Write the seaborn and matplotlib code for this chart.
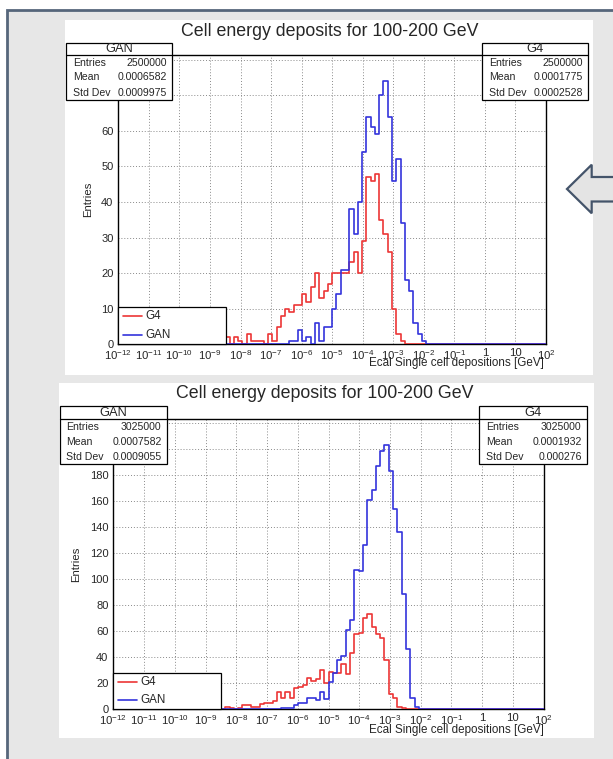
import numpy as np
import pandas as pd
import matplotlib
matplotlib.use("Agg")
import matplotlib.pyplot as plt
import matplotlib.transforms as mtransforms
from matplotlib.patches import Rectangle, Polygon
from matplotlib.lines import Line2D
from matplotlib.ticker import (FixedLocator, FixedFormatter, FuncFormatter,
                               LogLocator, MultipleLocator, NullFormatter)
import seaborn as sns

sns.set_theme(style="white")
plt.rcParams["font.family"] = ["Liberation Sans", "DejaVu Sans"]
plt.rcParams["mathtext.fontset"] = "custom"
plt.rcParams["mathtext.rm"] = "Liberation Sans"
plt.rcParams["mathtext.it"] = "Liberation Sans:italic"
plt.rcParams["mathtext.bf"] = "Liberation Sans:bold"

# ---------------------------------------------------------------- data
title = "Cell energy deposits for 100-200 GeV"
x_label = "Ecal Single cell depositions [GeV]"
y_label = "Entries"
series_names = ["G4", "GAN"]
series_colors = ["#ec3636", "#3434dc"]

x_tick_labels = [r"$10^{-12}$", r"$10^{-11}$", r"$10^{-10}$", r"$10^{-9}$",
                 r"$10^{-8}$", r"$10^{-7}$", r"$10^{-6}$", r"$10^{-5}$",
                 r"$10^{-4}$", r"$10^{-3}$", r"$10^{-2}$", r"$10^{-1}$",
                 "1", "10", r"$10^{2}$"]
log_range = (-12, 2)
n_bins = 100

stat_labels = ["Entries", "Mean", "Std Dev"]
gan_stats_top = ["2500000", "0.0006582", "0.0009975"]
g4_stats_top = ["2500000", "0.0001775", "0.0002528"]
gan_stats_bottom = ["3025000", "0.0007582", "0.0009055"]
g4_stats_bottom = ["3025000", "0.0001932", "0.000276"]

# entries per logarithmic bin (100 bins from 1e-12 to 1e2 GeV)
g4_top = [0] * 25 + [
    2, 0, 2, 1, 0, 3, 1, 1, 1, 0, 3, 1, 5, 8, 10, 9, 11, 11, 14, 12, 16,
    20, 13, 15, 17, 20, 20, 20, 20, 23, 26, 20, 29, 47, 46, 48, 35, 31, 26,
    10, 3, 1] + [0] * 33
gan_top = [0] * 40 + [
    1, 1, 4, 1, 2, 0, 6, 1, 5, 5, 10, 14, 21, 21, 38, 31, 40, 54, 64, 61,
    59, 70, 74, 64, 46, 52, 34, 18, 15, 6, 3, 1] + [0] * 28
g4_bottom = [0] * 26 + [
    2, 1, 0, 1, 3, 3, 2, 2, 4, 5, 5, 6, 13, 9, 13, 9, 16, 17, 19, 24, 22,
    23, 30, 20, 29, 28, 28, 35, 27, 43, 58, 59, 70, 73, 63, 58, 55, 38, 12,
    9, 2, 1] + [0] * 32
gan_bottom = [0] * 39 + [
    1, 1, 1, 3, 5, 5, 9, 9, 7, 13, 8, 21, 28, 38, 41, 61, 69, 107, 106, 126,
    161, 169, 187, 199, 203, 183, 154, 136, 89, 46, 9, 2] + [0] * 29

# ---------------------------------------------------------------- figure
W, H = 613, 759
fig = plt.figure(figsize=(W / 100, H / 100), dpi=100)
fig.patch.set_facecolor("white")
# pixel coordinates, origin at the top-left corner
px = mtransforms.Affine2D().scale(1 / W, -1 / H).translate(0, 1) + fig.transFigure


def rect(x0, y0, x1, y1, **kw):
    r = Rectangle((x0, y0), x1 - x0, y1 - y0, transform=px, **kw)
    fig.add_artist(r)
    return r


# slide background with frame
rect(7, 10, 640, 790, facecolor="#e7e7e7", edgecolor="#56667b", lw=2, zorder=-20)

# block arrow pointing left
arrow = Polygon([(567, 189), (591.7, 164.7), (591.7, 177), (640, 177),
                 (640, 201.5), (591.7, 201.5), (591.7, 213.3)],
                closed=True, transform=px, facecolor="#e4e4e4",
                edgecolor="#44546a", lw=1.6, zorder=3)
fig.add_artist(arrow)

edges_log = np.linspace(log_range[0], log_range[1], n_bins + 1)
centers = 10 ** ((edges_log[:-1] + edges_log[1:]) / 2)


def stats_box(x0, y0, yh, x1, y1, name, values):
    rect(x0, y0, x1, y1, facecolor="white", edgecolor="black", lw=0.9, zorder=5)
    fig.add_artist(Line2D([x0, x1], [yh, yh], transform=px, color="black",
                          lw=0.9, zorder=6))
    fig.text((x0 + x1) / 2, (y0 + yh) / 2 + 0.5, name, transform=px,
             ha="center", va="center", fontsize=9.3, zorder=7)
    row_h = (y1 - yh) / 3
    for k, (lab, val) in enumerate(zip(stat_labels, values)):
        yc = yh + row_h * (k + 0.5)
        fig.text(x0 + 7, yc, lab, transform=px, ha="left", va="center",
                 fontsize=7.6, zorder=7)
        fig.text(x1 - 5, yc, val, transform=px, ha="right", va="center",
                 fontsize=7.6, zorder=7)


def legend_box(x0, y0, x1, y1):
    rect(x0, y0, x1, y1, facecolor="white", edgecolor="black", lw=0.9, zorder=5)
    h = y1 - y0
    for k, (name, col) in enumerate(zip(series_names, series_colors)):
        yc = y0 + h * (0.25 + 0.5 * k)
        fig.add_artist(Line2D([x0 + 5, x0 + 24], [yc, yc], transform=px,
                              color=col, lw=1.2, zorder=6))
        fig.text(x0 + 27, yc, name, transform=px, ha="left", va="center",
                 fontsize=8.4, zorder=7)


def panel(p, g4, gan, gan_stats, g4_stats, ymajor, yminor):
    rect(*p["panel"], facecolor="white", edgecolor="none", zorder=-10)
    x0, y0, x1, y1 = p["axes"]
    ax = fig.add_axes([x0 / W, 1 - y1 / H, (x1 - x0) / W, (y1 - y0) / H])
    ax.set_facecolor("white")
    for name, col, counts in zip(series_names, series_colors, [g4, gan]):
        df = pd.DataFrame({"energy": centers, "entries": counts})
        sns.histplot(data=df, x="energy", weights="entries", bins=n_bins,
                     binrange=log_range, log_scale=True, element="step",
                     fill=False, color=col, linewidth=1.2, ax=ax, zorder=3)
    ax.set_xlim(10.0 ** log_range[0], 10.0 ** log_range[1])
    ax.set_ylim(0, 1.1 * max(max(g4), max(gan)))

    decades = 10.0 ** np.arange(log_range[0], log_range[1] + 1)
    ax.xaxis.set_major_locator(FixedLocator(decades))
    ax.xaxis.set_major_formatter(FixedFormatter(x_tick_labels))
    ax.xaxis.set_minor_locator(LogLocator(base=10, subs=np.arange(2, 10), numticks=400))
    ax.xaxis.set_minor_formatter(NullFormatter())
    ax.yaxis.set_major_locator(MultipleLocator(ymajor))
    ax.yaxis.set_minor_locator(MultipleLocator(yminor))
    # labels that would sit under the statistics box are left blank
    top_label = p["top_label"]
    ax.yaxis.set_major_formatter(
        FuncFormatter(lambda v, _: f"{v:g}" if v <= top_label else ""))

    ax.tick_params(axis="both", which="both", direction="in", top=False,
                   right=False, color="black", width=0.8)
    ax.tick_params(axis="y", which="major", length=7.5, pad=3.5, labelsize=8.0)
    ax.tick_params(axis="y", which="minor", length=3.8)
    ax.tick_params(axis="x", which="major", length=5, pad=3, labelsize=8.2)
    ax.tick_params(axis="x", which="minor", length=2.8)
    ax.grid(True, which="major", axis="both", color="#8a8a8a",
            linestyle=(0, (1, 2)), linewidth=0.7)
    ax.set_axisbelow(True)
    for s in ax.spines.values():
        s.set_visible(True)
        s.set_color("black")
        s.set_linewidth(1.0)

    ax.set_xlabel(x_label, fontsize=8.4, ha="right", va="center")
    ax.xaxis.set_label_coords(p["xlabel"][0], p["xlabel"][1])
    ax.set_ylabel(y_label, fontsize=8.2, va="center")
    ax.yaxis.set_label_coords(p["ylabel"], 0.5)

    fig.text(p["title"][0], p["title"][1], title, transform=px, ha="center",
             va="center", fontsize=12.8, zorder=7)
    stats_box(*p["gan_box"], "GAN", gan_stats)
    stats_box(*p["g4_box"], "G4", g4_stats)
    legend_box(*p["legend"])
    return ax


top = dict(panel=(65, 20, 593, 375), axes=(118.3, 54.7, 546, 344.3),
           xlabel=(0.995, -0.066), ylabel=-0.0716, title=(329.5, 31),
           gan_box=(66, 42.7, 55, 172, 100), g4_box=(482, 42.7, 55, 588, 100),
           legend=(118.3, 307, 226, 344.3), top_label=60)
bottom = dict(panel=(59, 383, 594, 738), axes=(113.3, 419, 543.7, 709.3),
              xlabel=(1.0, -0.072), ylabel=-0.087, title=(325, 393.5),
              gan_box=(59.5, 405.7, 419, 166.7, 464.3),
              g4_box=(479.3, 405.7, 419, 586.7, 464.3),
              legend=(113.3, 673.3, 220.7, 709.3), top_label=180)

panel(top, g4_top, gan_top, gan_stats_top, g4_stats_top, 10, 2)
panel(bottom, g4_bottom, gan_bottom, gan_stats_bottom, g4_stats_bottom, 20, 4)

fig.savefig("out.png", dpi=100, facecolor="white")
